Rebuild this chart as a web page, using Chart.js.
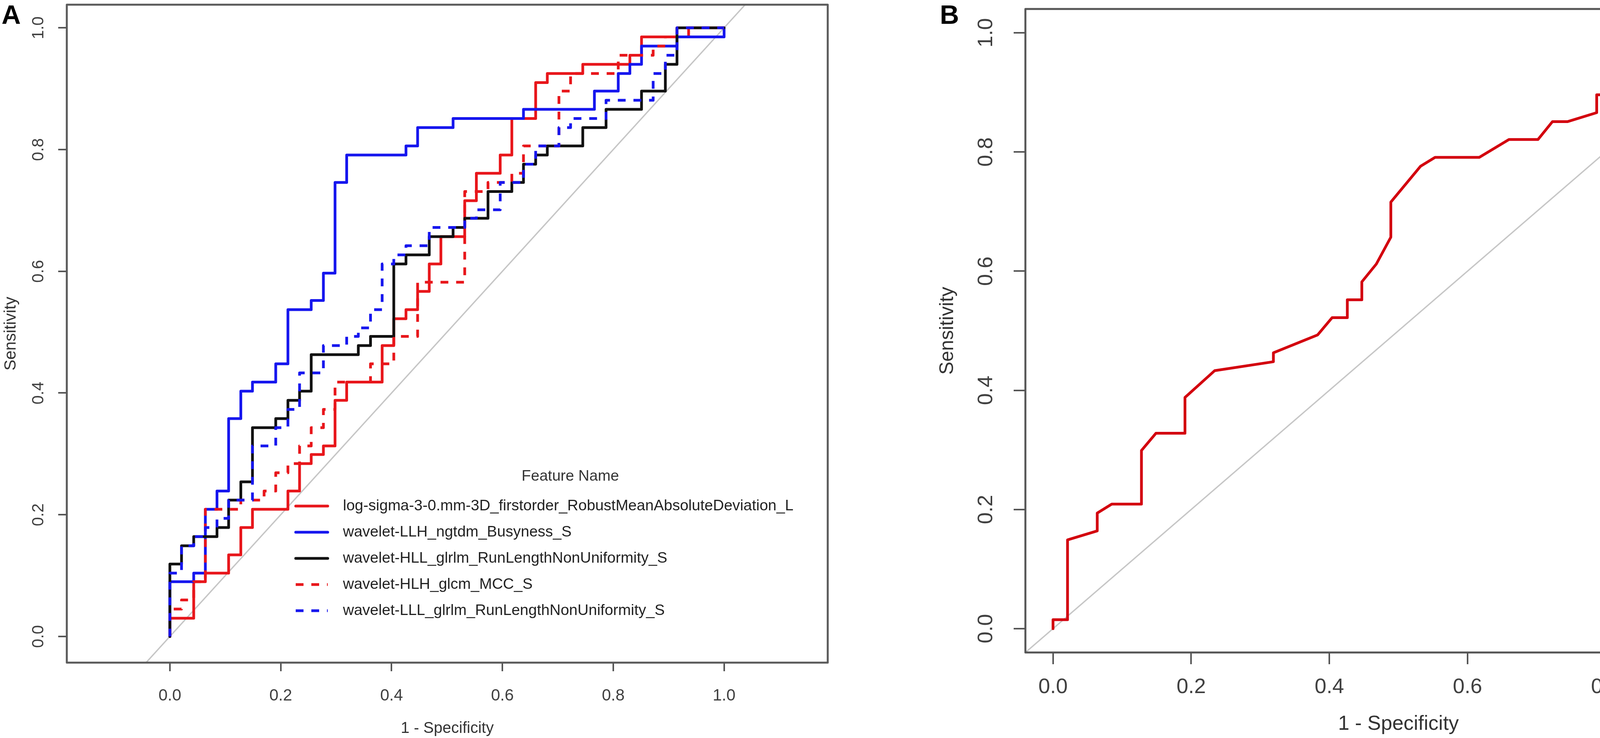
<!DOCTYPE html>
<html>
<head>
<meta charset="utf-8">
<script src="https://cdn.jsdelivr.net/npm/chart.js@4.4.1/dist/chart.umd.min.js"></script>
<style>
    html, body { margin: 0; padding: 0; background: #fff; }
    body { width: 4550px; height: 1890px; position: relative; overflow: hidden; font-family: "Liberation Sans", Arial, sans-serif; }
    canvas { position: absolute; top: 0; }
    #rocA { left: 0; }
    #rocB { left: 2300px; }
    .tag { position: absolute; top: 3px; z-index: 2; font-weight: bold; font-size: 68px; line-height: 68px; color: #000; }
</style>
</head>
<body>
<div class="tag" style="left:4px">A</div>
<div class="tag" style="left:2406px">B</div>
<canvas id="rocA" width="2250" height="1890"></canvas>
<canvas id="rocB" width="2250" height="1890"></canvas>

<script>
// Axis ticks
const tickValues = [0, 0.2, 0.4, 0.6, 0.8, 1.0];
const tickLabels = ['0.0', '0.2', '0.4', '0.6', '0.8', '1.0'];

// Reference diagonal (clipped to the plot box)
const diagX = [-0.05, 1.05];
const diagY = [-0.05, 1.05];

// Panel A: 1 - specificity (x) and sensitivity (y) for each feature
const logSigmaX = [0, 0, .043, .043, .064, .064, .106, .106, .128, .128, .149, .149, .213, .213, .234, .234,
    .255, .255, .277, .277, .298, .298, .319, .319, .383, .383, .404, .404, .426, .426, .447, .447,
    .468, .468, .489, .489, .532, .532, .553, .553, .596, .596, .617, .617, .660, .660, .681, .681,
    .745, .745, .830, .830, .851, .851, .936, .936, 1];
const logSigmaY = [0, .030, .030, .090, .090, .104, .104, .134, .134, .179, .179, .209, .209, .239, .239, .284,
    .284, .299, .299, .313, .313, .388, .388, .418, .418, .478, .478, .522, .522, .537, .537, .567,
    .567, .612, .612, .657, .657, .716, .716, .761, .761, .791, .791, .851, .851, .910, .910, .925,
    .925, .940, .940, .955, .955, .985, .985, 1, 1];

const busynessX = [0, 0, .043, .043, .064, .064, .085, .085, .106, .106, .128, .128, .149, .149, .191, .191,
    .213, .213, .255, .255, .277, .277, .298, .298, .319, .319, .426, .426, .447, .447, .511, .511,
    .638, .638, .766, .766, .809, .809, .830, .830, .851, .851, .915, .915, 1, 1];
const busynessY = [0, .090, .090, .104, .104, .209, .209, .239, .239, .358, .358, .403, .403, .418, .418, .448,
    .448, .537, .537, .552, .552, .597, .597, .746, .746, .791, .791, .806, .806, .836, .836, .851,
    .851, .866, .866, .896, .896, .925, .925, .940, .940, .970, .970, .985, .985, 1];

const hllRlnuX = [0, 0, .021, .021, .043, .043, .085, .085, .106, .106, .128, .128, .149, .149, .191, .191,
    .213, .213, .234, .234, .255, .255, .340, .340, .362, .362, .404, .404, .426, .426, .468, .468,
    .511, .511, .532, .532, .574, .574, .617, .617, .638, .638, .660, .660, .681, .681, .745, .745,
    .787, .787, .851, .851, .894, .894, .915, .915, 1];
const hllRlnuY = [0, .119, .119, .149, .149, .164, .164, .179, .179, .224, .224, .254, .254, .343, .343, .358,
    .358, .388, .388, .403, .403, .463, .463, .478, .478, .493, .493, .612, .612, .627, .627, .657,
    .657, .672, .672, .687, .687, .731, .731, .746, .746, .776, .776, .791, .791, .806, .806, .836,
    .836, .866, .866, .896, .896, .940, .940, 1, 1];

const mccX = [0, 0, .021, .021, .043, .043, .064, .064, .128, .128, .170, .170, .191, .191, .213, .213,
    .234, .234, .255, .255, .277, .277, .298, .298, .362, .362, .404, .404, .447, .447, .532, .532,
    .574, .574, .617, .617, .638, .638, .702, .702, .723, .723, .809, .809, .872, .872, .894, .894,
    .915, .915, 1];
const mccY = [0, .045, .045, .060, .060, .090, .090, .209, .209, .224, .224, .239, .239, .269, .269, .284,
    .284, .313, .313, .343, .343, .373, .373, .418, .418, .448, .448, .493, .493, .582, .582, .731,
    .731, .746, .746, .761, .761, .806, .806, .896, .896, .925, .925, .955, .955, .970, .970, .985,
    .985, 1, 1];

const lllRlnuX = [0, 0, .021, .021, .043, .043, .064, .064, .085, .085, .106, .106, .149, .149, .191, .191,
    .213, .213, .234, .234, .277, .277, .319, .319, .340, .340, .362, .362, .383, .383, .404, .404,
    .426, .426, .468, .468, .532, .532, .553, .553, .596, .596, .638, .638, .660, .660, .702, .702,
    .723, .723, .787, .787, .872, .872, .894, .894, .915, .915, 1];
const lllRlnuY = [0, .104, .104, .149, .149, .164, .164, .179, .179, .194, .194, .224, .224, .313, .313, .343,
    .343, .373, .373, .433, .433, .478, .478, .493, .493, .507, .507, .537, .537, .612, .612, .627,
    .627, .642, .642, .672, .672, .687, .687, .701, .701, .746, .746, .776, .776, .806, .806, .836,
    .836, .851, .851, .881, .881, .925, .925, .955, .955, 1, 1];

// Panel B: INR
const inrX = [0, 0, .021, .021, .064, .064, .085, .128, .128, .149, .191, .191, .234, .319, .319, .383,
    .404, .426, .426, .447, .447, .468, .489, .489, .532, .553, .617, .660, .702, .723, .745, .787,
    .787, .809, .830, .872, .872, .915, .915, 1];
const inrY = [0, .015, .015, .149, .164, .194, .209, .209, .299, .328, .328, .388, .433, .448, .463, .493,
    .522, .522, .552, .552, .582, .612, .657, .716, .776, .791, .791, .821, .821, .851, .851, .866,
    .896, .896, .910, .910, .925, .940, 1, 1];

const FONT = '"Liberation Sans", Arial, sans-serif';
Chart.defaults.font.family = FONT;

const toPoints = (xs, ys) => xs.map((x, i) => ({ x: x, y: ys[i] }));

// Box around the plot region, like R's box()
const plotBox = {
    id: 'plotBox',
    afterDraw(chart, args, opts) {
        const { left, top, right, bottom } = chart.chartArea;
        const ctx = chart.ctx;
        ctx.save();
        ctx.strokeStyle = opts.color;
        ctx.lineWidth = opts.width;
        ctx.lineJoin = 'round';
        ctx.strokeRect(left, top, right - left, bottom - top);
        ctx.restore();
    }
};

// Legend drawn inside the plot, fed from the datasets
const rocLegend = {
    id: 'rocLegend',
    afterDatasetsDraw(chart, args, opts) {
        const ctx = chart.ctx;
        ctx.save();
        ctx.font = opts.fontSize + 'px ' + FONT;
        ctx.fillStyle = '#333';
        ctx.textBaseline = 'middle';
        ctx.textAlign = 'center';
        ctx.fillText(opts.title, opts.titleX, opts.titleY);
        ctx.textAlign = 'left';
        let row = 0;
        chart.data.datasets.forEach(ds => {
            if (!ds.label) return;
            const y = opts.rowY + row * opts.rowGap;
            ctx.strokeStyle = ds.borderColor;
            ctx.lineWidth = ds.borderWidth;
            ctx.lineCap = ds.borderDash ? 'butt' : 'round';
            ctx.setLineDash(ds.borderDash || []);
            ctx.beginPath();
            ctx.moveTo(opts.lineX0, y);
            ctx.lineTo(opts.lineX1, y);
            ctx.stroke();
            ctx.setLineDash([]);
            ctx.fillStyle = '#222';
            ctx.fillText(ds.label, opts.textX, y);
            row++;
        });
        ctx.restore();
    }
};

function rocLine(label, xs, ys, color, dashed, order) {
    return {
        label: label,
        data: toPoints(xs, ys),
        showLine: true,
        borderColor: color,
        borderWidth: 7,
        borderDash: dashed ? [20, 20] : undefined,
        borderCapStyle: dashed ? 'butt' : 'round',
        borderJoinStyle: 'round',
        pointRadius: 0,
        tension: 0,
        fill: false,
        order: order
    };
}

function diagonal() {
    return {
        label: '',
        data: toPoints(diagX, diagY),
        showLine: true,
        borderColor: '#c6c6c6',
        borderWidth: 3.5,
        pointRadius: 0,
        order: 10
    };
}

// Shared axis builder: f holds the sizes for one panel
function rocScales(f) {
    return {
        x: {
            type: 'linear',
            min: f.xMin,
            max: f.xMax,
            afterBuildTicks: s => { s.ticks = tickValues.map(v => ({ value: v })); },
            afterFit: s => { s.height = f.xAxisHeight; s.paddingLeft = 0; s.paddingRight = 0; },
            grid: { drawOnChartArea: false, drawTicks: true, tickLength: f.tickLength, color: '#555', lineWidth: 4 },
            border: { display: false },
            ticks: {
                autoSkip: false,
                maxRotation: 0,
                padding: f.xTickPad,
                color: '#404040',
                font: { size: f.tickFont },
                callback: (v, i) => tickLabels[i]
            },
            title: { display: true, text: '1 - Specificity', color: '#333', font: { size: f.xTitleFont }, padding: { top: 0, bottom: f.xTitlePad } }
        },
        y: {
            type: 'linear',
            min: f.yMin,
            max: f.yMax,
            afterBuildTicks: s => { s.ticks = tickValues.map(v => ({ value: v })); },
            afterFit: s => { s.width = f.yAxisWidth; s.paddingTop = 0; s.paddingBottom = 0; },
            grid: { drawOnChartArea: false, drawTicks: true, tickLength: f.tickLength, color: '#555', lineWidth: 4 },
            border: { display: false },
            ticks: {
                autoSkip: false,
                minRotation: 90,
                maxRotation: 90,
                crossAlign: 'center',
                padding: f.yTickPad,
                color: '#404040',
                font: { size: f.tickFont },
                callback: (v, i) => tickLabels[i]
            },
            title: { display: true, text: 'Sensitivity', color: '#333', font: { size: f.yTitleFont }, padding: { top: f.yTitlePad, bottom: 0 } }
        }
    };
}

// Panel A
new Chart(document.querySelector('#rocA'), {
    type: 'scatter',
    data: {
        datasets: [
            rocLine('log-sigma-3-0.mm-3D_firstorder_RobustMeanAbsoluteDeviation_L', logSigmaX, logSigmaY, '#e8161b', false, 5),
            rocLine('wavelet-LLH_ngtdm_Busyness_S', busynessX, busynessY, '#1616ee', false, 4),
            rocLine('wavelet-HLL_glrlm_RunLengthNonUniformity_S', hllRlnuX, hllRlnuY, '#111', false, 3),
            rocLine('wavelet-HLH_glcm_MCC_S', mccX, mccY, '#e8161b', true, 2),
            rocLine('wavelet-LLL_glrlm_RunLengthNonUniformity_S', lllRlnuX, lllRlnuY, '#1616ee', true, 1),
            diagonal()
        ]
    },
    options: {
        responsive: false,
        animation: false,
        devicePixelRatio: 1,
        events: [],
        layout: { padding: { top: 12, right: 131, left: 0, bottom: 0 } },
        scales: rocScales({
            xMin: -0.186, xMax: 1.187, yMin: -0.043, yMax: 1.038,
            xAxisHeight: 193, yAxisWidth: 171, tickLength: 22,
            tickFont: 42, xTickPad: 38, yTickPad: 20,
            xTitleFont: 40, xTitlePad: 0, yTitleFont: 42, yTitlePad: 3
        }),
        plugins: {
            legend: { display: false },
            tooltip: { enabled: false },
            plotBox: { color: '#5a5a5a', width: 5 },
            rocLegend: {
                title: 'Feature Name', titleX: 1460, titleY: 1220, fontSize: 39,
                rowY: 1296, rowGap: 67, lineX0: 757, lineX1: 839, textX: 878
            }
        }
    },
    plugins: [plotBox, rocLegend]
});

// Panel B
new Chart(document.querySelector('#rocB'), {
    type: 'scatter',
    data: {
        datasets: [
            rocLine('INR', inrX, inrY, '#d3000e', false, 1),
            diagonal()
        ]
    },
    options: {
        responsive: false,
        animation: false,
        devicePixelRatio: 1,
        events: [],
        layout: { padding: { top: 23, right: 15, left: 0, bottom: 0 } },
        scales: rocScales({
            xMin: -0.04, xMax: 1.04, yMin: -0.04, yMax: 1.04,
            xAxisHeight: 219, yAxisWidth: 325, tickLength: 30,
            tickFont: 54, xTickPad: 27, yTickPad: 32,
            xTitleFont: 52, xTitlePad: 4, yTitleFont: 50, yTitlePad: 96
        }),
        plugins: {
            legend: { display: false },
            tooltip: { enabled: false },
            plotBox: { color: '#555', width: 5 },
            rocLegend: {
                title: 'Feature Name', titleX: 1998, titleY: 1202, fontSize: 54,
                rowY: 1291, rowGap: 70, lineX0: 1894, lineX1: 1994, textX: 2037
            }
        }
    },
    plugins: [plotBox, rocLegend]
});
</script>
</body>
</html>
